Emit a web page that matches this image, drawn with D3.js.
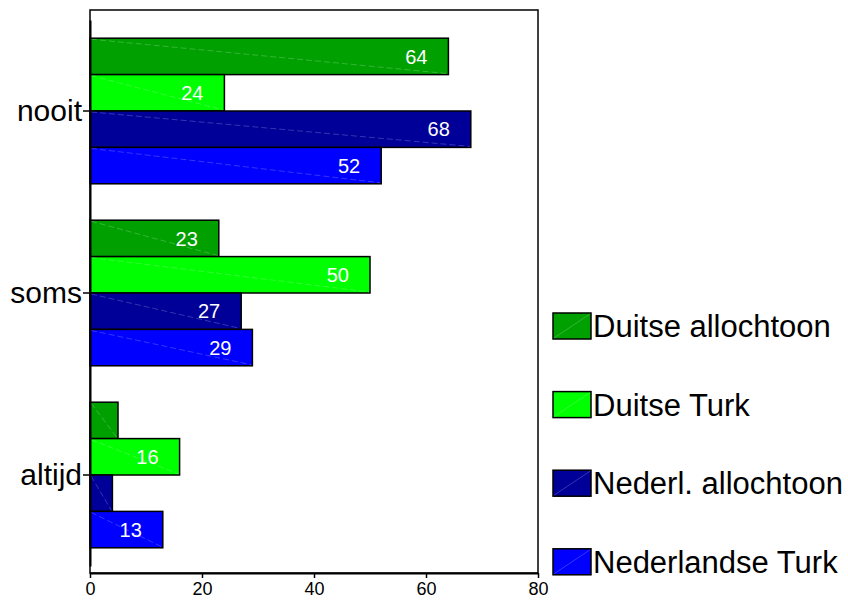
<!DOCTYPE html>
<html>
<head>
<meta charset="utf-8">
<script src="https://cdn.jsdelivr.net/npm/d3@7"></script>
<style>
  body { margin: 0; background: #fff; }
  svg { font-family: "Liberation Sans", Arial, sans-serif; }
</style>
</head>
<body>
<svg id="chart" width="848" height="605"></svg>
<script>
// data
const categories = ['nooit', 'soms', 'altijd'];
const seriesNames = ['Duitse allochtoon', 'Duitse Turk', 'Nederl. allochtoon', 'Nederlandse Turk'];
const seriesColors = ['#00a000', '#00ff00', '#000099', '#0000ff'];
// per series, values for nooit / soms / altijd
const seriesValues = [
  [64, 23, 5],
  [24, 50, 16],
  [68, 27, 4],
  [52, 29, 13]
];
const xTicks = [0, 20, 40, 60, 80];

const svg = d3.select('#chart');
const plot = { left: 90, right: 538, top: 10, bottom: 573 };

const x = d3.scaleLinear().domain([0, 80]).range([plot.left, plot.right]);
const y0 = d3.scaleBand()
  .domain(categories)
  .range([20, 566])
  .paddingInner(0.2)
  .paddingOuter(0.1);
const y1 = d3.scaleBand()
  .domain(seriesNames)
  .range([0, y0.bandwidth()]);

// frame
svg.append('rect')
  .attr('x', plot.left).attr('y', plot.top)
  .attr('width', plot.right - plot.left).attr('height', plot.bottom - plot.top)
  .attr('fill', 'none').attr('stroke', '#000').attr('stroke-width', 1.5);

// bars
const rows = [];
seriesNames.forEach((s, i) => {
  categories.forEach((c, j) => {
    rows.push({ series: s, cat: c, value: seriesValues[i][j], color: seriesColors[i] });
  });
});

const bars = svg.append('g').selectAll('g').data(rows).join('g')
  .attr('transform', d => `translate(0,${y0(d.cat) + y1(d.series)})`);

bars.append('rect')
  .attr('x', x(0))
  .attr('width', d => x(d.value) - x(0))
  .attr('height', y1.bandwidth())
  .attr('fill', d => d.color)
  .attr('stroke', '#000')
  .attr('stroke-width', 1.5);

// thin light diagonal inside each bar
bars.append('line')
  .attr('x1', x(0) + 1).attr('y1', 1)
  .attr('x2', d => x(d.value) - 1).attr('y2', y1.bandwidth() - 1)
  .attr('stroke', '#fff').attr('stroke-opacity', 0.35)
  .attr('stroke-width', 0.6).attr('stroke-dasharray', '6,3');

bars.filter(d => d.value >= 10).append('text')
  .attr('x', d => x(d.value) - 21)
  .attr('y', y1.bandwidth() / 2)
  .attr('dy', '0.36em')
  .attr('text-anchor', 'end')
  .attr('fill', '#fff')
  .attr('font-size', 20)
  .text(d => d.value);

// y axis
const yAxis = svg.append('g')
  .attr('transform', `translate(${plot.left},0)`)
  .call(d3.axisLeft(y0).tickSize(7).tickPadding(1).tickSizeOuter(0));
yAxis.select('.domain').attr('stroke-width', 2);
yAxis.selectAll('.tick line').attr('stroke-width', 1.5);
yAxis.selectAll('.tick text')
  .attr('font-size', 30).attr('fill', '#000')
  .attr('font-family', '"Liberation Sans", Arial, sans-serif');

// x axis
const xAxis = svg.append('g')
  .attr('transform', `translate(0,${plot.bottom})`)
  .call(d3.axisBottom(x).tickValues(xTicks).tickSize(5).tickPadding(4).tickSizeOuter(0));
xAxis.select('.domain').attr('stroke-width', 2);
xAxis.selectAll('.tick line').attr('stroke-width', 1.5);
xAxis.selectAll('.tick text')
  .attr('font-size', 18).attr('fill', '#000')
  .attr('font-family', '"Liberation Sans", Arial, sans-serif');

// legend
const legend = svg.append('g').selectAll('g').data(seriesNames).join('g')
  .attr('transform', (d, i) => `translate(553,${313 + i * 78.6})`);
legend.append('rect')
  .attr('width', 38).attr('height', 26)
  .attr('fill', (d, i) => seriesColors[i])
  .attr('stroke', '#000').attr('stroke-width', 1.5);
legend.append('line')
  .attr('x1', 1).attr('y1', 25).attr('x2', 37).attr('y2', 1)
  .attr('stroke', '#fff').attr('stroke-opacity', 0.35).attr('stroke-width', 0.6);
legend.append('text')
  .attr('x', 40).attr('y', 13).attr('dy', '0.36em')
  .attr('font-size', 31).attr('fill', '#000')
  .text(d => d);
</script>
</body>
</html>
